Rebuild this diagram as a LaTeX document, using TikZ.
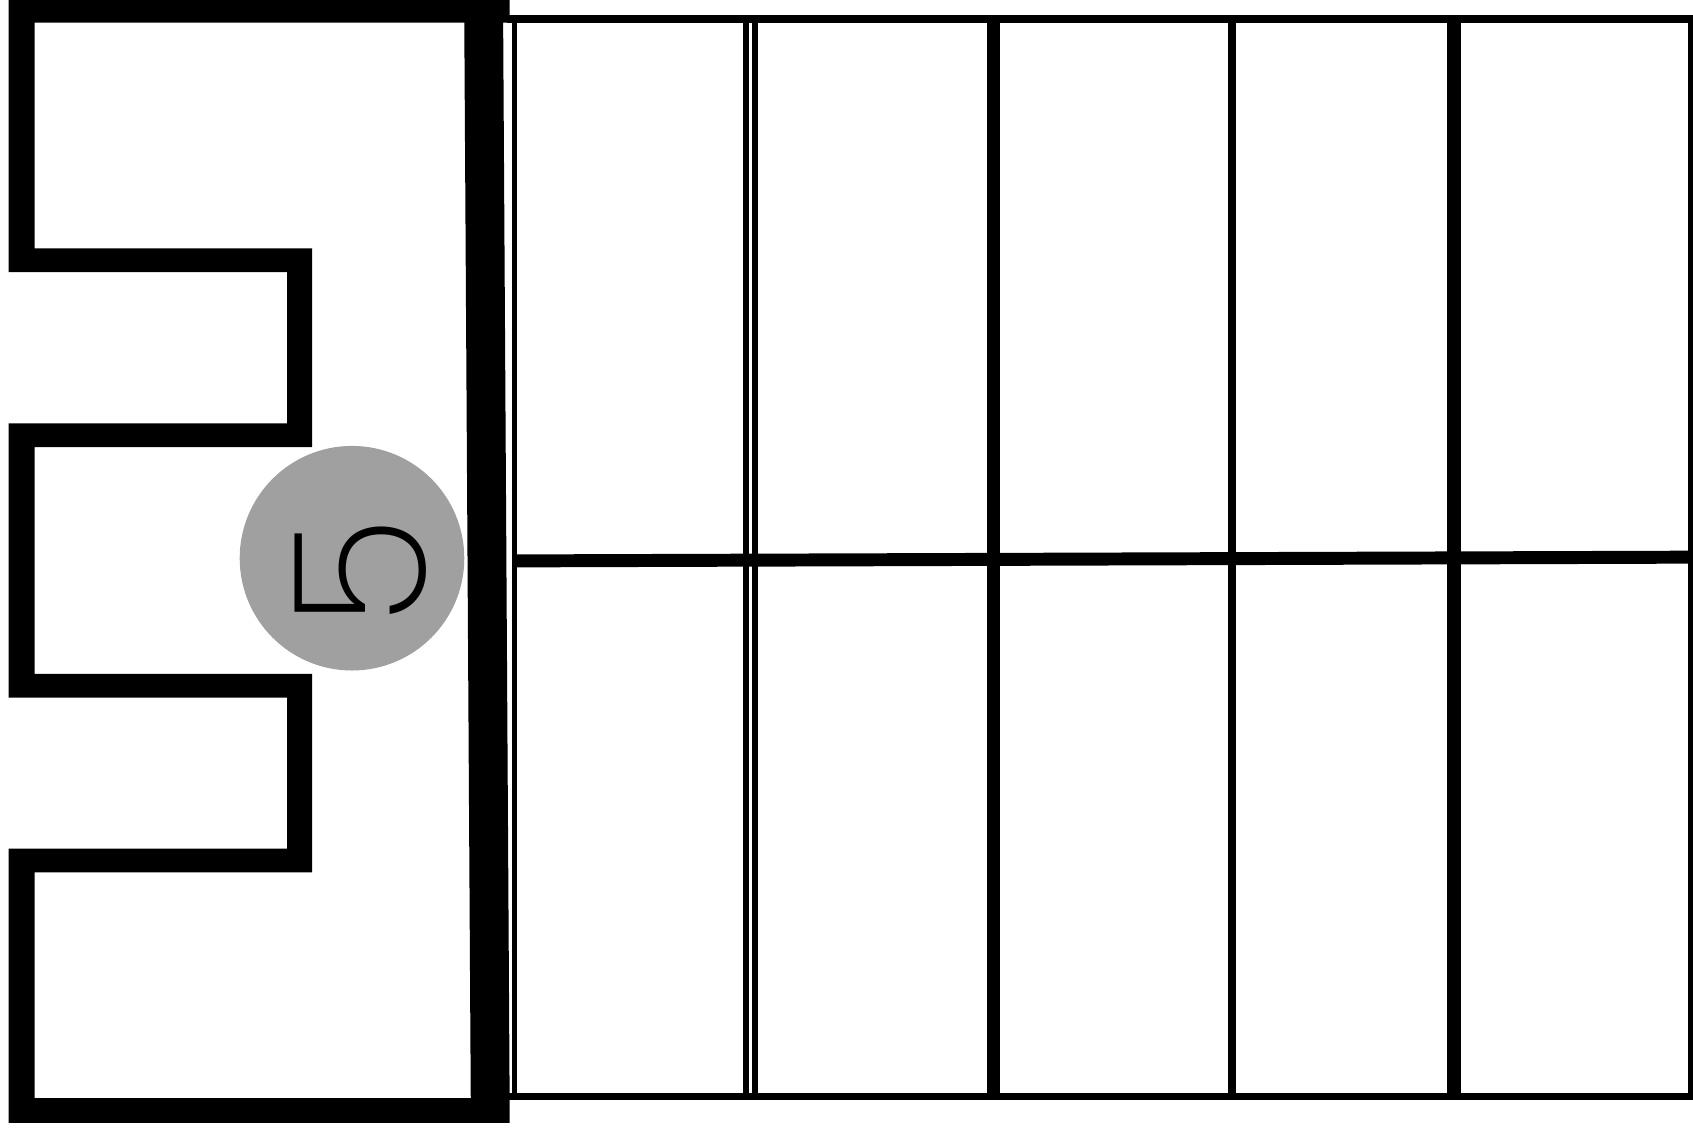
\documentclass[tikz,border=0pt]{standalone}
\usepackage{fontspec}
\newfontfamily\digitfont{Poppins}[UprightFont={* ExtraLight}]
\definecolor{discgray}{HTML}{A0A0A0}
\begin{document}
\begin{tikzpicture}[x=1pt,y=-1pt,
  gline/.style={draw=black,line width=#1}]
\useasboundingbox (0,0) rectangle (1568,1046);
\fill[white] (0,0) rectangle (1568,1046);
% thick left frame with notches
\fill[black, even odd rule]
  (8,-3) -- (472,-3) -- (472,21) -- (466,21) -- (472,1017) -- (472,1040) -- (8,1040)
  -- (8,786) -- (266,786) -- (266,646) -- (8,646) -- (8,392) -- (266,392) -- (266,252) -- (8,252) -- cycle
  (32,21) -- (430,21) -- (436,1017) -- (32,1017) -- (32,808) -- (289,808) -- (289,624) -- (32,624)
  -- (32,414) -- (289,414) -- (289,230) -- (32,230) -- cycle;
% grid
\coordinate (tl) at (470,17.5);
\coordinate (tr) at (1572,17.5);
\coordinate (bl) at (470,1015.5);
\coordinate (br) at (1572,1015.5);
\draw[gline=7] (tl) -- (tr);
\draw[gline=7] (bl) -- (br);
\draw[gline=5.5] (476.5,14) -- (476.5,1019);
\draw[gline=5.5] (691,14) -- (691,1019);
\draw[gline=5.5] (699.5,14) -- (699.5,1019);
\draw[gline=12] (920,14) -- (920,1019);
\draw[gline=7] (1141,14) -- (1141,1019);
\draw[gline=13] (1347,14) -- (1347,1019);
\draw[gline=5] (1566,14) -- (1566,1019);
\draw[gline=12] (476,519.5) -- (1572,516);
% disc with number
\fill[discgray] (326,517) circle (104);
\node[rotate=90, inner sep=0pt, font=\digitfont\fontsize{170}{170}\selectfont] (num) at (334,530) {5};
\end{tikzpicture}
\end{document}
